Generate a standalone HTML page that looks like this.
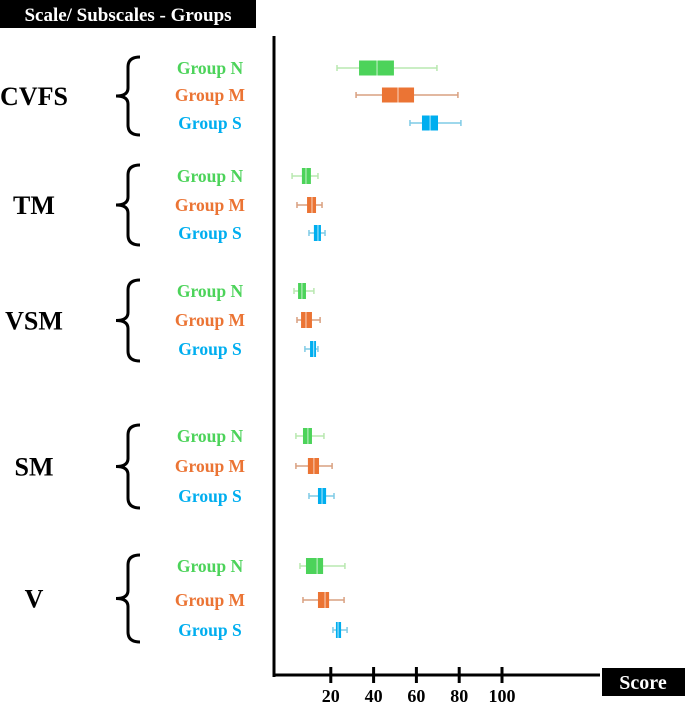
<!DOCTYPE html>
<html><head><meta charset="utf-8"><style>
body{margin:0;background:#fff;width:685px;height:703px;overflow:hidden;font-family:"Liberation Serif",serif}
</style></head><body>
<svg width="685" height="703" style="position:absolute;left:0;top:0">
<rect x="0" y="0" width="256" height="28" fill="#000"/>
<text x="128" y="21" text-anchor="middle" fill="#fff" font-weight="bold" font-size="19">Scale/ Subscales - Groups</text>
<rect x="602" y="668" width="83" height="28" fill="#000"/>
<text x="643" y="689" text-anchor="middle" fill="#fff" font-weight="bold" font-size="20">Score</text>
<g id="g"></g>
</svg>
<script>
const scales=["CVFS","TM","VSM","SM","V"];
const groups=["Group N","Group M","Group S"];
const colors=["#4cd35a","#eb7434","#00aeef"];
const whiskerColors=["#b9e8b0","#d9a080","#7fcbe6"];
const tickLabels=[20,40,60,80,100];
// [min,q1,median,q3,max] per scale per group
const statsN=[[22.9,33.2,41.6,49.5,69.6],[1.9,6.5,8.4,10.7,14],[2.8,4.7,6.5,8.4,12.1],[3.7,7,9.3,11.2,16.8],[5.6,8.4,13.6,16.4,26.6]];
const statsM=[[31.8,43.9,51.4,58.9,79.4],[4.2,8.9,11.2,13.1,15.9],[4.2,6.1,8.4,11.2,15],[3.7,9.3,12.1,14.5,20.6],[7,14,17.3,19.2,26.2]];
const statsS=[[57,62.6,66.4,70.1,80.8],[9.8,12.1,14,15.4,17.3],[7.9,10.3,12,13.1,14],[9.8,14,15.9,17.8,21.5],[21,22.4,23.4,24.8,27.6]];
const allStats=[statsN,statsM,statsS];
const rowY=[[68,95,123],[176,205,233],[291,320,349],[436,466,496],[566,600,630]];
const x=v=>288+v*2.14;
const NS="http://www.w3.org/2000/svg";
const g=document.getElementById('g');
function mk(t,a){const e=document.createElementNS(NS,t);for(const k in a)e.setAttribute(k,a[k]);g.appendChild(e);return e;}
let e=mk('line',{x1:274,y1:36,x2:274,y2:677,stroke:'#000','stroke-width':3});


e=mk('line',{x1:273,y1:675,x2:600,y2:675,stroke:'#000','stroke-width':3});


tickLabels.forEach(t=>{
 let l=mk('line',{x1:x(t),y1:667,x2:x(t),y2:683,stroke:'#000','stroke-width':3});
 
 
 let tx=mk('text',{x:x(t),y:702,'text-anchor':'middle','font-weight':'bold','font-size':18});
 tx.textContent=t;
 
 
});
scales.forEach((s,i)=>{
 const ys=rowY[i],top=ys[0]-11,bot=ys[2]+12,mid=(top+bot)/2;
 let lab=mk('text',{x:34,y:mid+9,'text-anchor':'middle','font-weight':'bold','font-size':26});
 lab.textContent=s;
 
 
 let br=mk('path',{d:`M140 ${top} Q128 ${top} 128 ${top+10} L128 ${mid-8} Q128 ${mid} 116 ${mid} Q128 ${mid} 128 ${mid+8} L128 ${bot-10} Q128 ${bot} 140 ${bot}`,fill:'none',stroke:'#000','stroke-width':3});
 
 
 groups.forEach((gr,j)=>{
  const y=ys[j],d=allStats[j][i];
  let t=mk('text',{x:210,y:y+6,'text-anchor':'middle','font-weight':'bold','font-size':17.5,fill:colors[j]});
  t.textContent=gr;
  
  
  let w=mk('line',{x1:x(d[0]),y1:y,x2:x(d[4]),y2:y,stroke:whiskerColors[j],'stroke-width':1.5});
  
  
  [d[0],d[4]].forEach(v=>{let c=mk('line',{x1:x(v),y1:y-3,x2:x(v),y2:y+3,stroke:whiskerColors[j],'stroke-width':1.5});
   
   });
  const h=i==0?15:16;
  let b=mk('rect',{x:x(d[1]),y:y-h/2,width:x(d[3])-x(d[1]),height:h,fill:colors[j]});
  
  
  let m=mk('line',{x1:x(d[2]),y1:y-h/2,x2:x(d[2]),y2:y+h/2,stroke:'#fff','stroke-width':1,'stroke-opacity':0.7});
  
  
 });
});
</script>
</body></html>
